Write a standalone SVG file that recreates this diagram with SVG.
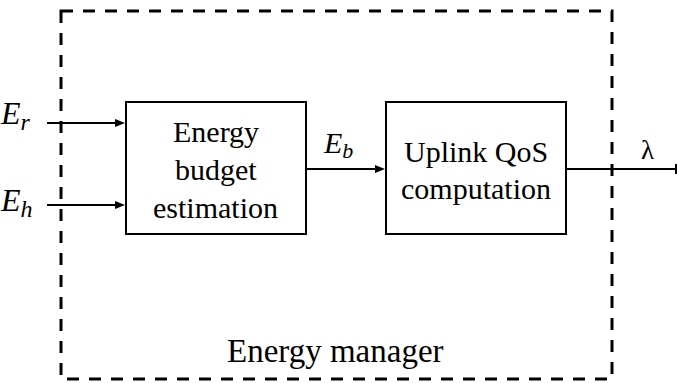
<svg xmlns="http://www.w3.org/2000/svg" width="677" height="383" viewBox="0 0 677 383">
<rect width="677" height="383" fill="#fff"/>
<g id="manager">
<rect x="61" y="11" width="551" height="368" fill="none" stroke="#000" stroke-width="3" stroke-dasharray="12 10"/>
<text x="227" y="362" font-family="Liberation Serif" font-size="33">Energy manager</text>
</g>
<g id="estimation">
<rect x="126" y="102" width="180" height="132" fill="#fff" stroke="#000" stroke-width="2"/>
<text x="173" y="142" font-family="Liberation Serif" font-size="30">Energy</text>
<text x="175" y="180" font-family="Liberation Serif" font-size="30">budget</text>
<text x="153" y="218" font-family="Liberation Serif" font-size="30">estimation</text>
</g>
<g id="qos">
<rect x="386" y="102" width="180" height="132" fill="#fff" stroke="#000" stroke-width="2"/>
<text x="404" y="162" font-family="Liberation Serif" font-size="30">Uplink QoS</text>
<text x="401" y="199" font-family="Liberation Serif" font-size="30">computation</text>
</g>
<g id="connectors">
<line x1="47" y1="123" x2="117" y2="123" stroke="#000" stroke-width="2"/>
<polygon points="115,119 125,123 115,127" fill="#000"/>
<line x1="47" y1="205" x2="117" y2="205" stroke="#000" stroke-width="2"/>
<polygon points="115,201 125,205 115,209" fill="#000"/>
<line x1="306" y1="169" x2="377" y2="169" stroke="#000" stroke-width="2"/>
<polygon points="375,165 385,169 375,173" fill="#000"/>
<line x1="566" y1="169" x2="676" y2="169" stroke="#000" stroke-width="2"/>
<line x1="676" y1="164" x2="676" y2="174" stroke="#000" stroke-width="2"/>
</g>
<g id="labels">
<text x="1" y="124" font-family="Liberation Serif" font-style="italic" font-size="32">E<tspan font-size="24" dy="6">r</tspan></text>
<text x="1" y="211" font-family="Liberation Serif" font-style="italic" font-size="32">E<tspan font-size="24" dy="6">h</tspan></text>
<text x="324" y="153" font-family="Liberation Serif" font-style="italic" font-size="30">E<tspan font-size="22" dy="5">b</tspan></text>
<text x="641" y="159" font-family="Liberation Serif" font-size="27">&#955;</text>
</g>
</svg>
